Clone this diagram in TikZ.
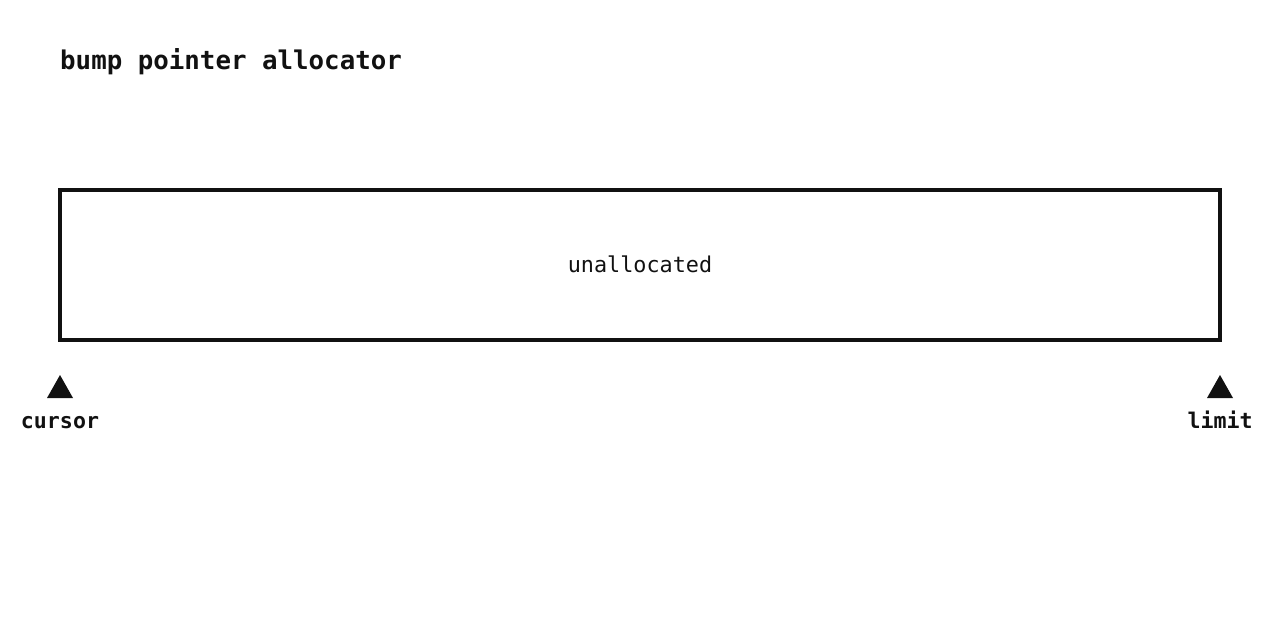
\documentclass[tikz,border=0pt]{standalone}
\usepackage{fontspec}
\setmonofont{DejaVu Sans Mono}
\definecolor{ink}{HTML}{111111}
\begin{document}
\begin{tikzpicture}[x=1pt,y=-1pt,
  lbl/.style={font=\ttfamily\bfseries\fontsize{21.6}{24}\selectfont, text=ink, anchor=base, inner sep=0pt},
  marker/.style={fill=ink, draw=none}]
\useasboundingbox (0,0) rectangle (1280,620);
\node[anchor=base west, inner sep=0pt, text=ink, font=\ttfamily\bfseries\fontsize{25.8}{30}\selectfont] (title) at (60,70) {bump pointer allocator};
\node[draw=ink, line width=4pt, minimum width=1160pt, minimum height=150pt, inner sep=0pt, outer sep=0pt, anchor=north west] (buf) at (60,190) {};
\node[anchor=base, inner sep=0pt, text=ink, font=\ttfamily\fontsize{21.8}{24}\selectfont] (ua) at (640,273) {unallocated};
\fill[marker] (60,375) coordinate (ctip) -- (73,398) -- (47,398) -- cycle;
\fill[marker] (1220,375) coordinate (ltip) -- (1233,398) -- (1207,398) -- cycle;
\node[lbl] (cursor) at (60,428) {cursor};
\node[lbl] (limit) at (1220,428) {limit};
\end{tikzpicture}
\end{document}
